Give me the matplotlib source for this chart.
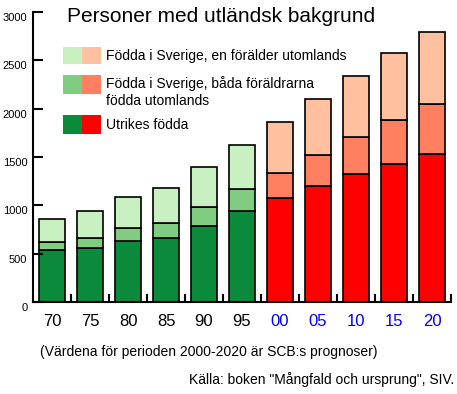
import numpy as np
import matplotlib
matplotlib.use('Agg')
import matplotlib.pyplot as plt
from matplotlib.patches import Rectangle
import matplotlib.transforms as mtransforms

plt.rcParams['font.family'] = ['Liberation Sans', 'DejaVu Sans']

years = ['70', '75', '80', '85', '90', '95', '00', '05', '10', '15', '20']
prognos = [False] * 6 + [True] * 5
utrikes = [535, 556, 628, 659, 790, 939, 1073, 1197, 1322, 1425, 1529]
bada = [83, 103, 135, 156, 190, 227, 265, 321, 383, 456, 517]
en = [238, 280, 321, 362, 414, 459, 522, 580, 631, 693, 745]

green = ['#0a8a3a', '#80cc80', '#c8f0c0']
red = ['#ff0000', '#ff8060', '#ffc0a0']

W, H = 457, 394
fig = plt.figure(figsize=(W / 100, H / 100), dpi=100)
ax = fig.add_axes([33 / W, 1 - 302 / H, (451 - 33) / W, (302 - 12) / H])

x = np.arange(len(years))
for i in x:
    pal = red if prognos[i] else green
    ax.bar(i, utrikes[i], width=0.68, color=pal[0], edgecolor='black', linewidth=1.2)
    ax.bar(i, bada[i], bottom=utrikes[i], width=0.68, color=pal[1], edgecolor='black', linewidth=1.2)
    ax.bar(i, en[i], bottom=utrikes[i] + bada[i], width=0.68, color=pal[2], edgecolor='black', linewidth=1.2)

ax.set_xlim(-0.5, len(years) - 0.5)
ax.set_ylim(0, 3000)
for s in ['top', 'right']:
    ax.spines[s].set_visible(False)
for s in ['left', 'bottom']:
    ax.spines[s].set_linewidth(1.5)

ax.set_yticks(np.arange(0, 3001, 500))
ax.tick_params(axis='y', direction='in', length=7, width=1.5, labelsize=8, pad=4)
offset = mtransforms.ScaledTranslation(0, -5 / 100, fig.dpi_scale_trans)
for lab in ax.get_yticklabels():
    lab.set_transform(lab.get_transform() + offset)

ax.set_xticks(x)
ax.set_xticklabels(years)
ax.tick_params(axis='x', length=0, labelsize=12, pad=9)
for lab, p in zip(ax.get_xticklabels(), prognos):
    lab.set_color('blue' if p else 'black')
ax.set_xticks(x + 0.5, minor=True)
ax.tick_params(axis='x', which='minor', direction='in', length=6, width=1.5)


def fx(px):
    return px / W


def fy(py):
    return 1 - py / H


fig.text(fx(67), fy(16), 'Personer med utländsk bakgrund', fontsize=15, va='center', ha='left')

legend_rows = [
    (47, 64, 2, 'Födda i Sverige, en förälder utomlands', 56),
    (75, 94, 1, 'Födda i Sverige, båda föräldrarna\nfödda utomlands', 92),
    (115, 134, 0, 'Utrikes födda', 125),
]
for top, bot, k, text, ty in legend_rows:
    fig.add_artist(Rectangle((fx(63), fy(bot)), fx(82) - fx(63), fy(top) - fy(bot),
                             transform=fig.transFigure, facecolor=green[k], edgecolor='none'))
    fig.add_artist(Rectangle((fx(82), fy(bot)), fx(101) - fx(82), fy(top) - fy(bot),
                             transform=fig.transFigure, facecolor=red[k], edgecolor='none'))
    fig.text(fx(106), fy(ty), text, fontsize=10, va='center', ha='left', linespacing=1.25)

fig.text(fx(40), fy(352), '(Värdena för perioden 2000-2020 är SCB:s prognoser)', fontsize=10, va='center', ha='left')
fig.text(fx(454), fy(380), 'Källa: boken "Mångfald och ursprung", SIV.', fontsize=10, va='center', ha='right')

fig.savefig('out.png', dpi=100)
